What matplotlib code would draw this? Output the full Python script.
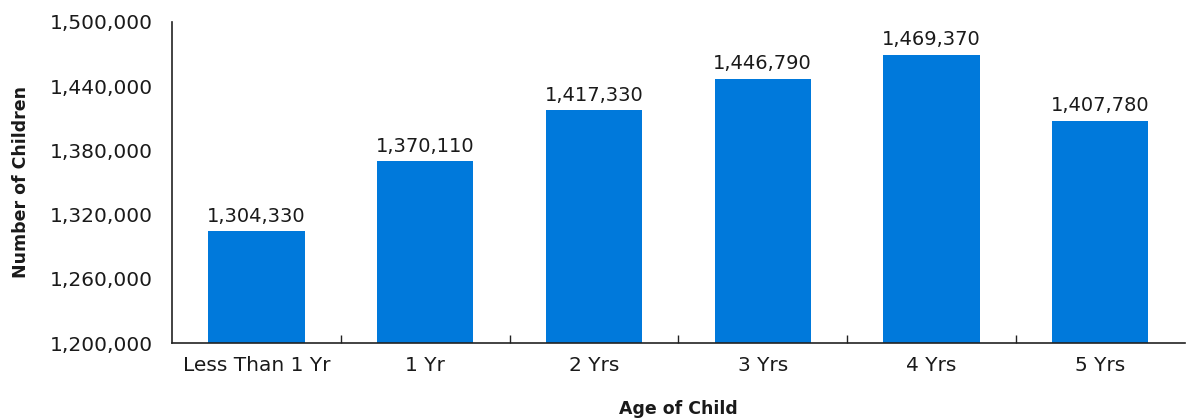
import matplotlib.pyplot as plt
import numpy as np
from matplotlib.ticker import FuncFormatter, FixedLocator

plt.rcParams['font.family'] = ['DejaVu Sans']

# data
ages = ["Less Than 1 Yr", "1 Yr", "2 Yrs", "3 Yrs", "4 Yrs", "5 Yrs"]
children = [1304330, 1370110, 1417330, 1446790, 1469370, 1407780]
yticks = [1200000, 1260000, 1320000, 1380000, 1440000, 1500000]

fig = plt.figure(figsize=(11.87, 4.19), dpi=100)
ax = fig.add_axes([0.145, 0.181, 0.853, 0.767])

x = np.arange(len(ages))
ax.bar(x, children, width=0.57, color="#0079db", zorder=2)

for xi, v in zip(x, children):
    ax.text(xi, v + 5000, f"{v:,}", ha="center", va="bottom", fontsize=14, color="#1a1a1a")

ax.set_ylim(1200000, 1500000)
ax.set_xlim(-0.5, len(ages) - 0.5)
ax.set_yticks(yticks)
ax.yaxis.set_major_formatter(FuncFormatter(lambda v, p: f"{int(v):,}"))
ax.tick_params(axis="y", length=0, pad=14, labelsize=14.5, labelcolor="#1a1a1a")

ax.set_xticks(x)
ax.set_xticklabels(ages)
ax.tick_params(axis="x", which="major", length=0, pad=9, labelsize=14.5, labelcolor="#1a1a1a")
ax.xaxis.set_minor_locator(FixedLocator(x[:-1] + 0.5))
ax.tick_params(axis="x", which="minor", direction="in", length=6, width=1, color="#222222")

for s in ["top", "right"]:
    ax.spines[s].set_visible(False)
for s in ["left", "bottom"]:
    ax.spines[s].set_color("#222222")
    ax.spines[s].set_linewidth(1.2)

ax.set_ylabel("Number of Children", fontsize=12.5, fontweight="bold", labelpad=14, color="#1a1a1a")
ax.set_xlabel("Age of Child", fontsize=12.5, fontweight="bold", labelpad=18, color="#1a1a1a")

fig.savefig("out.png", dpi=100)
